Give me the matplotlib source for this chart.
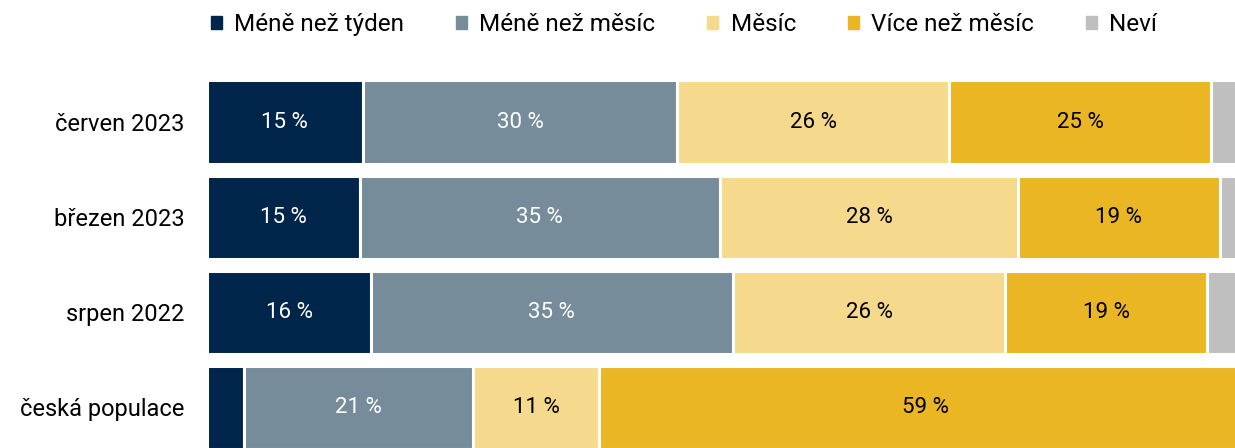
import matplotlib
matplotlib.use("Agg")
import matplotlib.pyplot as plt
from matplotlib.patches import Patch

plt.rcParams['font.family'] = ['Roboto', 'DejaVu Sans']

# Data (share of answers, %)
categories = ['červen 2023', 'březen 2023', 'srpen 2022', 'česká populace']
series = ['Méně než týden', 'Méně než měsíc', 'Měsíc', 'Více než měsíc', 'Neví']
colors = ['#00254a', '#768c9b', '#f5d98c', '#ebb623', '#bfbfbf']
text_colors = ['white', 'white', 'black', 'black', 'black']

values = [
    [14.9, 30.1, 26.0, 25.1, 3.9],   # červen 2023
    [14.6, 34.5, 28.5, 19.3, 3.1],   # březen 2023
    [15.7, 34.6, 26.1, 19.3, 4.3],   # srpen 2022
    [3.5, 22.0, 12.0, 62.5, 0.0],    # česká populace
]
labels = [
    ['15 %', '30 %', '26 %', '25 %', ''],
    ['15 %', '35 %', '28 %', '19 %', ''],
    ['16 %', '35 %', '26 %', '19 %', ''],
    ['', '21 %', '11 %', '59 %', ''],
]

W, H = 1235, 448
fig = plt.figure(figsize=(W / 100, H / 100), dpi=100)
# axes runs past the right and bottom edge, like the cropped original
ax = fig.add_axes([207 / W, 0, 1045 / W, 1])

ypos = list(range(len(categories)))
for i, cat in enumerate(categories):
    left = 0
    for j, s in enumerate(series):
        v = values[i][j]
        if v > 0:
            ax.barh(i, v, left=left, height=0.874, color=colors[j],
                    edgecolor='white', linewidth=2.2)
            if labels[i][j]:
                ax.text(left + v / 2, i, labels[i][j], ha='center', va='center',
                        color=text_colors[j], fontsize=16)
        left += v

ax.set_xlim(0, 100)
ax.set_ylim(3.43, -1.284)
ax.set_yticks(ypos)
ax.set_yticklabels(categories, fontsize=17)
ax.tick_params(axis='y', length=0, pad=16)
ax.set_xticks([])
for sp in ax.spines.values():
    sp.set_visible(False)

handles = [Patch(color=c) for c in colors]
fig.legend(handles, series, loc='upper center', bbox_to_anchor=(684 / W, 1.003),
           ncol=5, frameon=False, fontsize=17.5, handlelength=0.45, handleheight=0.45,
           handletextpad=0.5, columnspacing=2.15, borderaxespad=0.2)

fig.savefig('out.png', dpi=100)
